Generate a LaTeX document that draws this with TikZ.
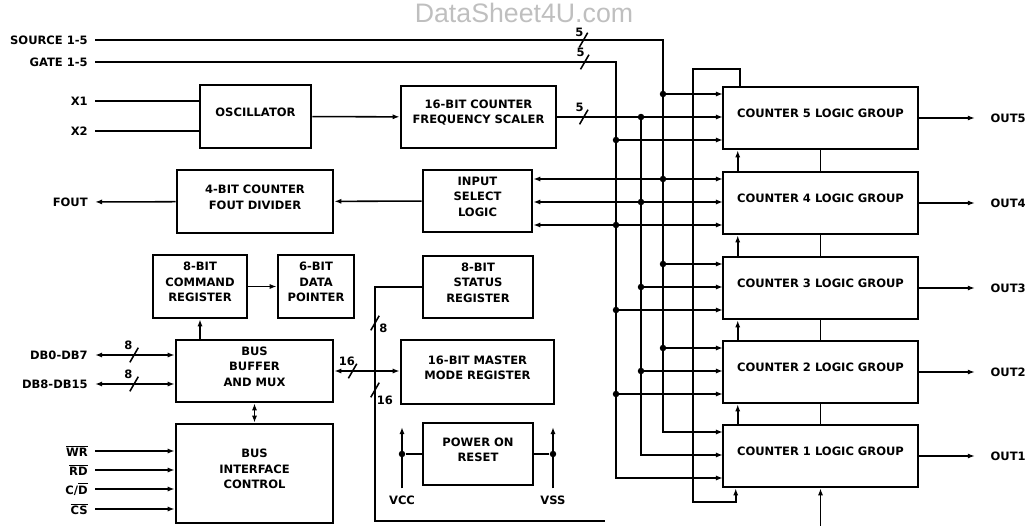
\documentclass[tikz,border=0pt]{standalone}
\usepackage{fontspec}
\setmainfont{DejaVu Sans}
\newfontfamily\wmfont{Liberation Sans}
\usetikzlibrary{arrows.meta, positioning, fit, calc}

\begin{document}
\begin{tikzpicture}[
    x=0.025cm, y=-0.025cm,
    font=\fontsize{8.2pt}{11pt}\selectfont\bfseries,
    >={Latex[length=5pt,width=3.6pt]},
    % Styles
    blk/.style={rectangle, draw, line width=1.8pt, inner sep=0pt, align=center},
    wire/.style={line width=1.1pt},
    lbl/.style={inner sep=5pt},
    dot/.style={circle, fill, inner sep=0pt, minimum size=4.6pt},
    slash/.style={draw, line width=1.1pt, inner sep=0pt, minimum width=0pt, minimum height=12pt, rotate=-30},
    busnum/.style={inner sep=0pt}
]
\useasboundingbox (0,0) rectangle (1025,526);

\node[font=\wmfont\fontsize{19pt}{19pt}\selectfont, text=gray!50, inner sep=0pt] (wm) at (524,13) {DataSheet4U.com};

% --- Pin labels (left) ---
\node[lbl, anchor=east] (src) at (95,40) {SOURCE 1-5};
\node[lbl, anchor=east] (gate) at (95,62) {GATE 1-5};
\node[lbl, anchor=east] (x1) at (95,101) {X1};
\node[lbl, anchor=east] (x2) at (95,131) {X2};
\node[lbl, anchor=east] (fout) at (95,202) {FOUT};
\node[lbl, anchor=east] (dbl) at (95,355) {DB0-DB7};
\node[lbl, anchor=east] (dbh) at (95,384) {DB8-DB15};
\node[lbl, anchor=east] (wr) at (95,451) {$\overline{\mbox{WR}}$};
\node[lbl, anchor=east] (rd) at (95,470) {$\overline{\mbox{RD}}$};
\node[lbl, anchor=east] (cd) at (95,489) {C/$\overline{\mbox{D}}$};
\node[lbl, anchor=east] (cs) at (95,509) {$\overline{\mbox{CS}}$};

% --- Blocks ---
\node[blk, fit={(200,85) (311,148)}] (osc) {OSCILLATOR};
\node[blk, fit={(401,86) (556,148)}] (scaler) {16-BIT COUNTER\\FREQUENCY SCALER};
\node[blk, fit={(177,170) (333,233)}] (fdiv) {4-BIT COUNTER\\FOUT DIVIDER};
\node[blk, fit={(423,170) (532,232)}] (insel) {INPUT\\SELECT\\LOGIC};
\node[blk, fit={(153,255) (247,318)}] (cmdreg) {8-BIT\\COMMAND\\REGISTER};
\node[blk, fit={(278,255) (354,318)}] (dptr) {6-BIT\\DATA\\POINTER};
\node[blk, fit={(423,256) (533,318)}] (status) {8-BIT\\STATUS\\REGISTER};
\node[blk, fit={(176,340) (333,402)}] (busbuf) {BUS\\BUFFER\\AND MUX};
\node[blk, fit={(401,340) (554,404)}] (mmreg) {16-BIT MASTER\\MODE REGISTER};
\node[blk, fit={(176,424) (333,523)}] (bic) {BUS\\INTERFACE\\CONTROL};
\node[blk, fit={(423,423) (533,485)}] (por) {POWER ON\\RESET};

% --- Counter groups ---
\foreach \n/\yt in {5/87,4/172,3/257,2/341,1/425}{
  \node[blk, fit={(723,\yt) (918,\yt+62)}] (cnt\n) {COUNTER \n\ LOGIC GROUP};
  \coordinate (in\n-a) at (723,\yt+7);
  \coordinate (in\n-b) at (723,\yt+30);
  \coordinate (in\n-c) at (723,\yt+53);
}

% --- Source / gate / clock buses ---
\coordinate (srcc) at (663,40);
\coordinate (gatec) at (616,62);
\coordinate (sclc) at (641,117);
\draw[wire,->] (src.east) -- node[slash,pos=0.86]{} node[busnum,pos=0.86,xshift=-3pt,yshift=5.5pt]{5} (srcc) -- (srcc |- in1-a) -- (in1-a);
\draw[wire,->] (gate.east) -- node[slash,pos=0.94]{} node[busnum,pos=0.94,xshift=-3pt,yshift=7pt]{5} (gatec) -- (gatec |- in1-c) -- (in1-c);
\draw[wire,->] (scaler.east) -- node[slash,pos=0.16]{} node[busnum,pos=0.16,xshift=-3pt,yshift=7pt]{5} (in5-b);
\draw[wire,->] (sclc) -- (sclc |- in1-b) -- (in1-b);
\foreach \n in {5,3,2}{
  \draw[wire,->] (srcc |- in\n-a) -- (in\n-a);
  \draw[wire,->] (gatec |- in\n-c) -- (in\n-c);
}
\foreach \n in {3,2} \draw[wire,->] (sclc |- in\n-b) -- (in\n-b);
\foreach \r in {a,b,c} \draw[wire,<->] (insel.east |- in4-\r) -- (in4-\r);

% --- Cascade between counters ---
\coordinate (fbt) at (693,69);
\coordinate (fbb) at (693,502);
\draw[wire,->] ($(cnt5.north west)+(18,0)$) |- (fbt) -- (fbb) -| ($(cnt1.south west)+(14,0)$);
\foreach \lo/\hi in {4/5,3/4,2/3,1/2}{
  \draw[wire,->] ($(cnt\lo.north west)+(16,0)$) -- ($(cnt\hi.south west)+(16,0)$);
  \draw[wire] (cnt\lo) -- (cnt\hi);
}
\coordinate (cbot) at (820.5,526);
\draw[wire,<-] (cnt1) -- (cbot);

% --- Outputs ---
\foreach \n in {5,...,1}{
  \node[lbl, anchor=west] (out\n) at ($(cnt\n.east)+(64,0)$) {OUT\n};
  \draw[wire,->, shorten >=6pt] (cnt\n.east) -- (out\n.west);
}

% --- Left side connections ---
\draw[wire] (x1.east) -- (x1.east -| osc.west);
\draw[wire] (x2.east) -- (x2.east -| osc.west);
\draw[wire,->] (osc) -- (scaler);
\draw[wire,->] (insel) -- (fdiv);
\draw[wire,->] (fdiv) -- (fout);
\draw[wire,->] (cmdreg) -- (dptr);
\draw[wire,->] (busbuf.north -| cmdreg) -- (cmdreg);
\draw[wire,<->] (busbuf) -- (bic);
\draw[wire,<->] (dbl.east) -- node[slash,pos=0.49]{} node[busnum,pos=0.49,xshift=-4pt,yshift=7pt]{8} (dbl.east -| busbuf.west);
\draw[wire,<->] (dbh.east) -- node[slash,pos=0.49]{} node[busnum,pos=0.49,xshift=-4pt,yshift=7pt]{8} (dbh.east -| busbuf.west);
\foreach \s in {wr,rd,cd,cs} \draw[wire,->] (\s.east) -- (\s.east -| bic.west);

% --- Internal data bus ---
\coordinate (stc) at (375,287);
\coordinate (stb) at (375,521);
\coordinate (ste) at (605,521);
\draw[wire] (status.west) -- (stc) -- node[slash,pos=0.154]{} node[busnum,pos=0.154,xshift=6pt,yshift=-4pt]{8} node[slash,pos=0.44]{} node[busnum,pos=0.44,xshift=7pt,yshift=-7pt]{16} (stb) -- (ste);
\draw[wire,<->] (busbuf.east) -- node[slash,pos=0.28]{} node[busnum,pos=0.28,xshift=-4pt,yshift=7pt]{16} (busbuf.east -| mmreg.west);

% --- Power on reset ---
\node[lbl] (vcc) at (402,500) {VCC};
\node[lbl] (vss) at (553,500) {VSS};
\coordinate (vcct) at (402,427);
\coordinate (vsst) at (553,427);
\draw[wire,->] (vcc) -- (vcct);
\draw[wire,->] (vss) -- (vsst);
\node[dot] (vccd) at (vcc |- por) {};
\node[dot] (vssd) at (vss |- por) {};
\draw[wire] (vccd) -- (por);
\draw[wire] (vssd) -- (por);

% --- Junction dots ---
\foreach \n in {5,4,3,2}{
  \node[dot] at (srcc |- in\n-a) {};
  \node[dot] at (sclc |- in\n-b) {};
  \node[dot] at (gatec |- in\n-c) {};
}

\end{tikzpicture}
\end{document}
